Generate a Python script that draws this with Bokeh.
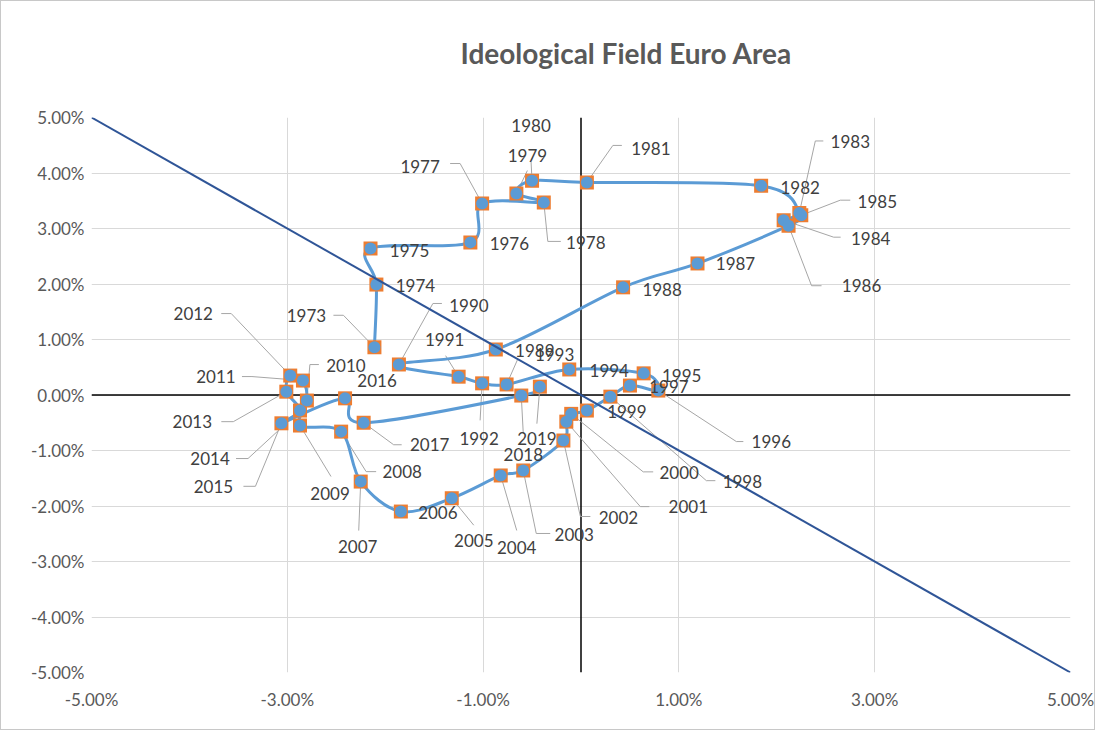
from bokeh.plotting import figure
from bokeh.models import Range1d, FixedTicker, PrintfTickFormatter, Span, ColumnDataSource, Title
from bokeh.embed import file_html
from bokeh.resources import INLINE
from bokeh.core.properties import value

# ---------------- data ----------------
years = list(range(1973, 2020))
x_vals = [-2.11, -2.09, -2.15, -1.13, -1.01, -0.38, -0.66, -0.50, 0.06, 1.84,
          2.23, 2.07, 2.25, 2.12, 1.19, 0.43, -0.87, -1.86, -1.25, -1.01,
          -0.76, -0.12, 0.64, 0.79, 0.50, 0.30, 0.06, -0.10, -0.15, -0.18,
          -0.59, -0.82, -1.32, -1.84, -2.25, -2.45, -2.87, -2.80, -2.84, -2.97,
          -3.01, -2.87, -3.06, -2.41, -2.22, -0.61, -0.42]
y_vals = [0.86, 1.99, 2.64, 2.75, 3.45, 3.47, 3.63, 3.86, 3.83, 3.77,
          3.28, 3.15, 3.24, 3.05, 2.37, 1.94, 0.82, 0.55, 0.33, 0.21,
          0.19, 0.46, 0.39, 0.08, 0.17, -0.03, -0.28, -0.34, -0.48, -0.82,
          -1.36, -1.45, -1.86, -2.10, -1.56, -0.66, -0.55, -0.10, 0.26, 0.35,
          0.06, -0.28, -0.51, -0.06, -0.50, -0.01, 0.15]
diag_x = [-5.0, 5.0]
diag_y = [5.0, -5.0]
x_ticks = [-5, -3, -1, 1, 3, 5]
y_ticks = [-5, -4, -3, -2, -1, 0, 1, 2, 3, 4, 5]
title_text = "Ideological Field Euro Area"

# ---------------- label layout (pixel offsets from the point) ----------------
# year: (label dx, label dy, [leader offsets ...])  screen px, y down
label_layout = {
    1973: (-68, -32, [(-31, -32), (-41, -32)]),
    1974: (39, 1, []),
    1975: (39, 2, []),
    1976: (39, 1, []),
    1977: (-62, -37, [(-22, -40), (-32, -40)]),
    1978: (42, 40, [(4, 39), (17, 39)]),
    1979: (11, -38, [(11, -23)]),
    1980: (-1, -55, [(-1, -19)]),
    1981: (64, -34, [(26, -37), (35, -37)]),
    1982: (39, 2, []),
    1983: (51, -71, [(16, -72), (24, -72)]),
    1984: (87, 18, [(50, 17), (57, 17)]),
    1985: (76, -14, [(39, -15), (49, -15)]),
    1986: (73, 60, [(23, 60), (33, 60)]),
    1987: (38, 0, []),
    1988: (39, 2, []),
    1989: (39, 1, []),
    1990: (70, -59, [(34, -61), (43, -61)]),
    1991: (-14, -37, [(-13, -21)]),
    1992: (-3, 55, [(-2, 37)]),
    1993: (48, -30, [(11, -25)]),
    1994: (40, 1, []),
    1995: (38, 2, []),
    1996: (113, 51, [(78, 51), (85, 51)]),
    1997: (39, 1, []),
    1998: (132, 85, [(96, 84), (105, 84)]),
    1999: (40, 1, []),
    2000: (108, 59, [(72, 58), (82, 58)]),
    2001: (122, 85, [(74, 85), (83, 85)]),
    2002: (55, 77, [(17, 76), (27, 76)]),
    2003: (51, 64, [(13, 63), (27, 63)]),
    2004: (16, 72, [(16, 55)]),
    2005: (22, 42, [(22, 27)]),
    2006: (37, 1, []),
    2007: (-3, 65, [(-2, 49)]),
    2008: (61, 40, [(25, 40), (35, 40)]),
    2009: (30, 68, [(31, 51)]),
    2010: (39, -35, [(3, -36), (12, -36)]),
    2011: (-87, -4, [(-51, -4), (-61, -4)]),
    2012: (-97, -62, [(-59, -62), (-69, -62)]),
    2013: (-94, 30, [(-53, 30), (-65, 30)]),
    2014: (-90, 48, [(-52, 48), (-64, 48)]),
    2015: (-68, 63, [(-26, 63), (-38, 63)]),
    2016: (32, -18, []),
    2017: (66, 22, [(30, 22), (38, 22)]),
    2018: (2, 59, [(2, 38)]),
    2019: (-3, 52, [(-3, 37)]),
}

# ---------------- figure ----------------
W, H = 1095, 730
BL, BR, BT, BB = 90, 26, 116, 59
XMIN, XMAX, YMIN, YMAX = -5.0, 5.0, -5.0, 5.0
PX_X = (W - BL - BR) / (XMAX - XMIN)
PX_Y = (H - BT - BB) / (YMAX - YMIN)

p = figure(width=W, height=H, output_backend="svg", toolbar_location=None,
           x_range=Range1d(XMIN, XMAX), y_range=Range1d(YMIN, YMAX),
           min_border_left=BL, min_border_right=BR, min_border_top=BT, min_border_bottom=BB,
           title=None)
p.styles = {"border": "1px solid #C8C8C8"}
p.outline_line_color = None
p.background_fill_color = "white"
p.border_fill_color = "white"

# spacer panel between frame and title, then the title itself
p.add_layout(Title(text=" ", text_font_size="10px", standoff=30, text_color="white"), "above")
p.add_layout(Title(text=title_text, text_font="Lato", text_font_style="bold",
                   text_font_size="28px", text_color="#595959", align="left",
                   offset=369, standoff=10), "above")

for ax in (p.xaxis[0], p.yaxis[0]):
    ax.axis_line_color = None
    ax.major_tick_line_color = None
    ax.minor_tick_line_color = None
    ax.major_tick_out = 0
    ax.major_tick_in = 0
    ax.minor_tick_out = 0
    ax.major_label_text_font = "Lato"
    ax.major_label_text_font_size = "17px"
    ax.major_label_text_color = "#595959"
    ax.formatter = PrintfTickFormatter(format="%.2f%%")
p.xaxis.ticker = FixedTicker(ticks=x_ticks)
p.yaxis.ticker = FixedTicker(ticks=y_ticks)
p.xaxis.major_label_standoff = 16
p.yaxis.major_label_standoff = 7

p.xgrid.grid_line_color = "#D9D9D9"
p.ygrid.grid_line_color = "#D9D9D9"
p.xgrid.grid_line_width = 1
p.ygrid.grid_line_width = 1

p.add_layout(Span(location=0, dimension="height", line_color="black", line_width=1.5, level="underlay"))
p.add_layout(Span(location=0, dimension="width", line_color="black", line_width=1.5, level="underlay"))

# leader lines
lead_xs, lead_ys = [], []
for yr, x, y in zip(years, x_vals, y_vals):
    dx, dy, pts = label_layout[yr]
    if pts:
        xs = [x] + [x + ox / PX_X for ox, oy in pts]
        ys = [y] + [y - oy / PX_Y for ox, oy in pts]
        lead_xs.append(xs)
        lead_ys.append(ys)
p.multi_line(lead_xs, lead_ys, line_color="#A6A6A6", line_width=1)

# smooth line via bezier segments (Catmull-Rom style control points)
n = len(x_vals)
bx0, by0, bx1, by1, cx0, cy0, cx1, cy1 = [], [], [], [], [], [], [], []
for i in range(n - 1):
    pm = max(i - 1, 0)
    pn = min(i + 2, n - 1)
    bx0.append(x_vals[i]); by0.append(y_vals[i])
    bx1.append(x_vals[i + 1]); by1.append(y_vals[i + 1])
    cx0.append(x_vals[i] + (x_vals[i + 1] - x_vals[pm]) / 6.0)
    cy0.append(y_vals[i] + (y_vals[i + 1] - y_vals[pm]) / 6.0)
    cx1.append(x_vals[i + 1] - (x_vals[pn] - x_vals[i]) / 6.0)
    cy1.append(y_vals[i + 1] - (y_vals[pn] - y_vals[i]) / 6.0)
p.bezier(x0=bx0, y0=by0, x1=bx1, y1=by1, cx0=cx0, cy0=cy0, cx1=cx1, cy1=cy1,
         line_color="#5B9BD5", line_width=3)

src = ColumnDataSource(dict(
    x=x_vals, y=y_vals, label=[str(yr) for yr in years],
    dx=[label_layout[yr][0] for yr in years],
    dy=[label_layout[yr][1] for yr in years],
))
p.scatter("x", "y", source=src, marker="square", size=14, fill_color="#ED7D31", line_color=None)
p.scatter("x", "y", source=src, marker="circle", size=12, fill_color="#5B9BD5", line_color=None)

p.line(diag_x, diag_y, line_color="#2F5597", line_width=2)

p.text("x", "y", text="label", source=src, x_offset="dx", y_offset="dy",
       text_font=value("Lato"), text_font_size="17px", text_color="#404040",
       text_align="center", text_baseline="middle")

open("out.html", "w").write(file_html(p, INLINE))
